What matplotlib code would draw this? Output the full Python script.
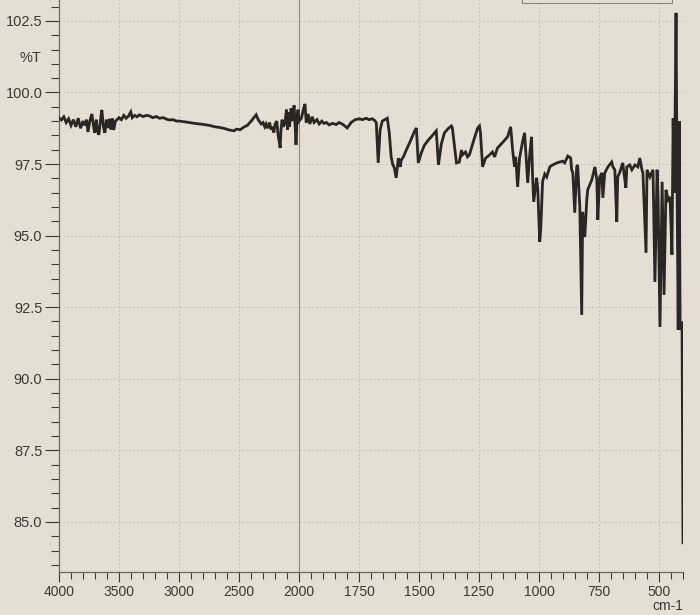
import numpy as np
import matplotlib
matplotlib.use("Agg")
import matplotlib.pyplot as plt
from matplotlib.ticker import FixedLocator, FixedFormatter, NullFormatter
from matplotlib.patches import Rectangle

# IR spectrum: wavenumber (cm-1) and %T
wavenumber = [
    4000, 3980, 3960, 3940, 3920, 3900, 3880, 3860, 3840, 3820, 3800, 3785,
    3770, 3759, 3743, 3726, 3710, 3701, 3690, 3680, 3668, 3655, 3643, 3630,
    3618, 3605, 3593, 3580, 3568, 3555, 3544, 3530, 3519, 3500, 3480, 3460,
    3440, 3420, 3402, 3390, 3370, 3350, 3330, 3300, 3270, 3245, 3220, 3190,
    3162, 3130, 3100, 3079, 3050, 3020, 2996, 2960, 2913, 2870, 2830, 2790,
    2747, 2700, 2664, 2620, 2581, 2540, 2523, 2490, 2456, 2430, 2410, 2398,
    2380, 2357, 2340, 2315, 2300, 2285, 2274, 2260, 2245, 2232, 2220, 2210,
    2199, 2185, 2174, 2165, 2157, 2150, 2141, 2130, 2116, 2105, 2095, 2091,
    2080, 2066, 2055, 2041, 2033, 2025, 2015, 2008, 2000,
    1990, 1982, 1975, 1970, 1962, 1955, 1945, 1937, 1925, 1916, 1905, 1896,
    1885, 1875, 1860, 1845, 1833, 1820, 1812, 1799, 1783, 1766, 1749, 1735,
    1720, 1708, 1695, 1687, 1678, 1670, 1662, 1653, 1645, 1632, 1624, 1616,
    1610, 1603, 1595, 1586, 1578, 1574, 1565, 1553, 1536, 1520, 1511, 1503,
    1490, 1478, 1460, 1449, 1428, 1419, 1407, 1394, 1377, 1365, 1361, 1344,
    1332, 1323, 1319, 1306, 1298, 1290, 1273, 1256, 1248, 1244, 1235, 1223,
    1206, 1194, 1185, 1173, 1152, 1131, 1118, 1114, 1110, 1102, 1097, 1089,
    1081, 1068, 1060, 1047, 1039, 1031, 1027, 1022, 1010, 1005, 997, 993,
    990, 985, 976, 968, 955, 947, 926, 901, 893, 880, 868, 864,
    859, 851, 843, 839, 830, 822, 818, 809, 801, 797, 780, 767,
    759, 755, 747, 738, 734, 726, 713, 697, 692, 684, 676, 672,
    663, 651, 646, 638, 634, 622, 613, 600, 588, 580, 571, 567,
    554, 550, 538, 525, 517, 508, 504, 496, 487, 479, 471, 462,
    454, 446, 441, 437, 433, 429, 425, 420, 416, 412, 408, 404, 400,
]
transmittance = [
    99.11, 99.04, 99.15, 98.95, 99.08, 98.85, 99.05, 98.80, 99.10, 98.75, 99.00, 98.85,
    99.05, 98.62, 99.00, 99.25, 98.75, 98.59, 99.05, 98.70, 98.52, 99.00, 99.39, 98.80,
    98.59, 99.05, 98.76, 99.08, 98.70, 99.10, 98.69, 99.00, 99.04, 99.12, 99.05, 99.20,
    99.10, 99.18, 99.32, 99.12, 99.20, 99.15, 99.22, 99.16, 99.20, 99.18, 99.12, 99.16,
    99.10, 99.12, 99.06, 99.04, 99.05, 99.00, 99.00, 98.98, 98.95, 98.92, 98.90, 98.88,
    98.85, 98.80, 98.78, 98.74, 98.69, 98.66, 98.72, 98.70, 98.80, 98.85, 98.95, 99.00,
    99.10, 99.22, 99.05, 98.90, 98.95, 98.80, 98.90, 98.75, 98.95, 98.70, 98.80, 98.60,
    98.90, 99.00, 98.50, 98.30, 98.06, 98.70, 99.05, 98.80, 98.95, 99.40, 98.70, 99.30,
    98.80, 99.45, 99.00, 99.55, 98.90, 98.17, 99.20, 99.40, 99.00,
    99.10, 99.40, 99.60, 98.95, 99.25, 98.90, 99.15, 98.95, 99.05, 98.90, 99.00, 98.92,
    98.95, 98.87, 98.92, 98.88, 98.95, 98.90, 98.85, 98.76, 98.95, 99.05, 99.08, 99.05,
    99.10, 99.05, 99.08, 99.04, 98.95, 97.54, 98.70, 99.00, 99.04, 99.10, 98.60, 97.75,
    97.50, 97.37, 97.02, 97.71, 97.40, 97.64, 97.75, 97.99, 98.30, 98.62, 98.76, 97.54,
    97.90, 98.15, 98.35, 98.45, 98.66, 97.47, 98.20, 98.59, 98.75, 98.83, 98.76, 97.54,
    97.57, 97.99, 97.82, 97.92, 97.75, 97.82, 98.30, 98.75, 98.83, 98.60, 97.40, 97.70,
    97.82, 97.92, 97.75, 98.06, 98.25, 98.45, 98.80, 98.41, 98.00, 97.40, 97.75, 96.70,
    97.71, 98.30, 98.59, 96.84, 97.80, 98.45, 97.12, 96.18, 97.02, 96.60, 94.78, 95.20,
    95.80, 96.90, 97.15, 97.05, 97.40, 97.45, 97.54, 97.60, 97.54, 97.78, 97.71, 97.30,
    97.19, 95.80, 97.40, 97.47, 96.00, 92.23, 95.83, 94.95, 96.25, 96.60, 96.95, 97.40,
    96.95, 95.55, 97.05, 97.19, 96.32, 97.19, 97.40, 97.57, 97.40, 97.30, 95.48, 97.05,
    97.22, 97.54, 97.19, 96.67, 97.40, 97.47, 97.30, 97.47, 97.40, 97.71, 97.30, 97.19,
    94.40, 97.30, 97.05, 97.30, 93.38, 97.30, 96.35, 91.81, 96.88, 92.93, 96.60, 96.25,
    96.35, 94.33, 99.10, 96.50, 99.10, 102.78, 97.00, 91.71, 99.00, 91.71, 92.00, 91.90, 84.27,
]

major_x = [4000, 3500, 3000, 2500, 2000, 1750, 1500, 1250, 1000, 750, 500]
major_x_labels = ["4000", "3500", "3000", "2500", "2000", "1750", "1500", "1250", "1000", "750", "500"]
minor_x = list(range(3900, 2000, -100)) + list(range(1950, 399, -50))
major_y = [85.0, 87.5, 90.0, 92.5, 95.0, 97.5, 100.0, 102.5]


# 4000-2000 is drawn at half the scale of 2000-400
def fwd(w):
    w = np.asarray(w, dtype=float)
    return np.where(w > 2000, 2000 + (w - 2000) / 2.0, w)


def inv(v):
    v = np.asarray(v, dtype=float)
    return np.where(v > 2000, 2000 + (v - 2000) * 2.0, v)


paper = "#e4ded4"
ink = "#3b3835"
plt.rcParams["font.family"] = ["Liberation Sans", "DejaVu Sans"]

fig = plt.figure(figsize=(7.0, 6.15), dpi=100, facecolor=paper)
ax = fig.add_axes([59 / 700, 43 / 615, 624 / 700, 572 / 615])
ax.set_facecolor(paper)
ax.set_xscale("function", functions=(fwd, inv))
ax.set_xlim(4000, 400)
ax.set_ylim(83.25, 103.23)

ax.xaxis.set_major_locator(FixedLocator(major_x))
ax.xaxis.set_major_formatter(FixedFormatter(major_x_labels))
ax.xaxis.set_minor_locator(FixedLocator(minor_x))
ax.xaxis.set_minor_formatter(NullFormatter())
ax.yaxis.set_major_locator(FixedLocator(major_y))
ax.yaxis.set_minor_locator(FixedLocator(list(np.arange(83.5, 103.1, 0.5))))
ax.yaxis.set_minor_formatter(NullFormatter())
ax.set_yticklabels([f"{v:.1f}" for v in major_y])

ax.tick_params(which="major", direction="out", length=10, width=0.8, color=ink,
               labelsize=10.5, labelcolor=ink, pad=2)
ax.tick_params(which="minor", direction="out", length=6, width=0.8, color=ink)
ax.tick_params(axis="x", which="major", length=7, pad=2, labelsize=10)
ax.tick_params(axis="x", which="minor", length=5)

for s in ["top", "right"]:
    ax.spines[s].set_visible(False)
for s in ["left", "bottom"]:
    ax.spines[s].set_color("#6d6964")
    ax.spines[s].set_linewidth(0.9)

# dotted chart-paper grid, solid line at the scale change
for w in major_x:
    if w == 2000:
        ax.axvline(w, color="#8e8983", lw=0.8, zorder=1)
    else:
        ax.axvline(w, color="#bdb8b0", lw=0.7, ls=(0, (1.5, 2.5)), zorder=1)
for t in major_y:
    ax.axhline(t, color="#bdb8b0", lw=0.7, ls=(0, (1.5, 2.5)), zorder=1)

ax.plot(wavenumber, transmittance, color="#2a2624", lw=2.0, zorder=3,
        solid_joinstyle="miter")

ax.text(-0.045, 101.2, "%T", transform=ax.get_yaxis_transform(), ha="center",
        va="center", fontsize=10.5, color=ink)
ax.text(1.0, -0.06, "cm-1", transform=ax.transAxes, ha="right", va="center",
        fontsize=10, color=ink)

# edge of the header box at the top of the sheet
fig.patches.append(Rectangle((522 / 700, 612 / 615), 150 / 700, 0.02,
                             transform=fig.transFigure, fill=False,
                             ec="#8a857f", lw=0.8))

fig.savefig("out.png", dpi=100, facecolor=paper)
